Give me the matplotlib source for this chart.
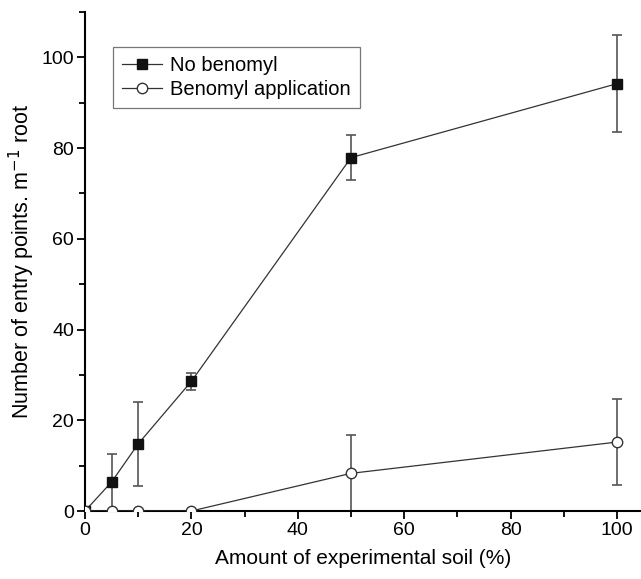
import matplotlib
matplotlib.use("Agg")
import matplotlib.pyplot as plt
from matplotlib.ticker import MultipleLocator

plt.rcParams['font.family'] = ['Liberation Sans Narrow', 'Arial Narrow', 'Liberation Sans', 'DejaVu Sans']

## soil amounts (%) and entry point counts per m root
soil = [0, 5, 10, 20, 50, 100]
no_benomyl = [0, 6.4, 14.8, 28.6, 77.9, 94.2]
no_benomyl_err = [0, 6.2, 9.3, 1.9, 5.0, 10.7]
benomyl = [0, 0, 0, 0, 8.3, 15.2]
benomyl_err = [0, 0, 0, 0, 8.4, 9.5]

fig = plt.figure(figsize=(6.41, 5.79), dpi=100)
ax = fig.add_axes([85 / 641, 1 - 511 / 579, 556 / 641, 499 / 579])

## error bars first, then lines with markers on top
ax.errorbar(soil, no_benomyl, yerr=no_benomyl_err, fmt='none', ecolor='#555555',
            elinewidth=1.2, capsize=3.3, capthick=1.2, zorder=2)
ax.errorbar(soil, benomyl, yerr=benomyl_err, fmt='none', ecolor='#555555',
            elinewidth=1.2, capsize=3.3, capthick=1.2, zorder=2)
ax.plot(soil, no_benomyl, color='#333333', lw=0.9, marker='s', ms=7,
        mfc='#111111', mec='#111111', label='No benomyl', zorder=3)
ax.plot(soil, benomyl, color='#333333', lw=0.9, marker='o', ms=7.5,
        mfc='white', mec='#333333', mew=1.0, label='Benomyl application', zorder=3)

ax.set_xlim(0, 104.5)
ax.set_ylim(0, 110)
ax.xaxis.set_major_locator(MultipleLocator(20))
ax.xaxis.set_minor_locator(MultipleLocator(10))
ax.yaxis.set_major_locator(MultipleLocator(20))
ax.yaxis.set_minor_locator(MultipleLocator(10))
ax.tick_params(which='both', direction='out', width=1.3, labelsize=14, pad=2)
ax.tick_params(which='major', length=6)
ax.tick_params(which='minor', length=4)

ax.spines['top'].set_visible(False)
ax.spines['right'].set_visible(False)
ax.spines['left'].set_linewidth(1.5)
ax.spines['bottom'].set_linewidth(1.5)

ax.set_xlabel('Amount of experimental soil (%)', fontsize=15, labelpad=7)
ax.set_ylabel('Number of entry points. m$^{-1}$ root', fontsize=15.5, labelpad=3)

leg = ax.legend(loc='upper left', bbox_to_anchor=(0.05, 0.93), borderaxespad=0,
                fontsize=14.5, frameon=True, fancybox=False, edgecolor='#555555',
                handlelength=2.0, handletextpad=0.4, borderpad=0.45,
                labelspacing=0.25)
leg.get_frame().set_linewidth(0.9)

fig.savefig('out.png', dpi=100)
